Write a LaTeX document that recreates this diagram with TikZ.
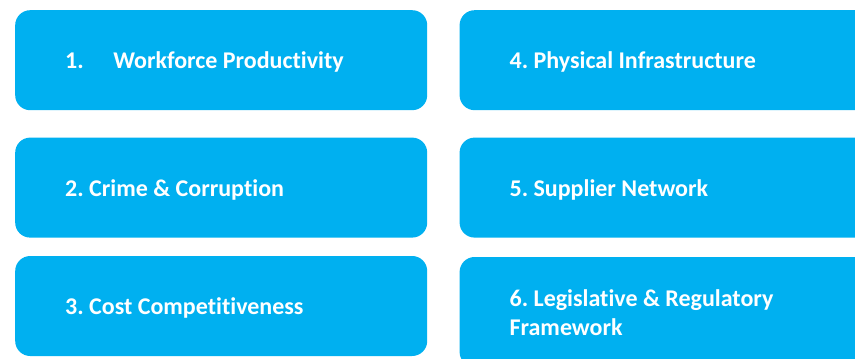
\documentclass[tikz,border=0pt]{standalone}
\usepackage{fontspec}
\setmainfont{Carlito}[Ligatures=NoCommon]
\usetikzlibrary{positioning}
\definecolor{tileblue}{RGB}{0,176,240}
\frenchspacing

\begin{document}
\begin{tikzpicture}[x=1pt, y=-1pt,
    factor/.style={rectangle, rounded corners=15pt, fill=tileblue, text=white,
        font=\fontsize{24}{29}\selectfont\bfseries,
        minimum width=412pt, minimum height=100pt,
        text width=312pt, text depth=0pt, inner xsep=50pt, align=flush left}]
    % Fix the frame of the picture
    \clip (0,0) rectangle (855,359);
    \useasboundingbox (0,0) rectangle (855,359);

    % Left column of factors
    \node[factor, anchor=north west] (workforce) at (15,10) {1.\hspace{29.5pt}Workforce Productivity};
    \node[factor, below=27pt of workforce] (crime) {2. Crime \& Corruption};
    \node[factor, below=18pt of crime] (cost) {3. Cost Competitiveness};

    % Right column of factors (runs off the right edge)
    \node[factor, right=32pt of workforce] (infra) {4. Physical Infrastructure};
    \node[factor, below=27pt of infra] (supplier) {5. Supplier Network};
    \node[factor, minimum height=110pt, text depth=28pt, below=19pt of supplier] (legal) {6. Legislative \& Regulatory\\Framework};
\end{tikzpicture}
\end{document}
